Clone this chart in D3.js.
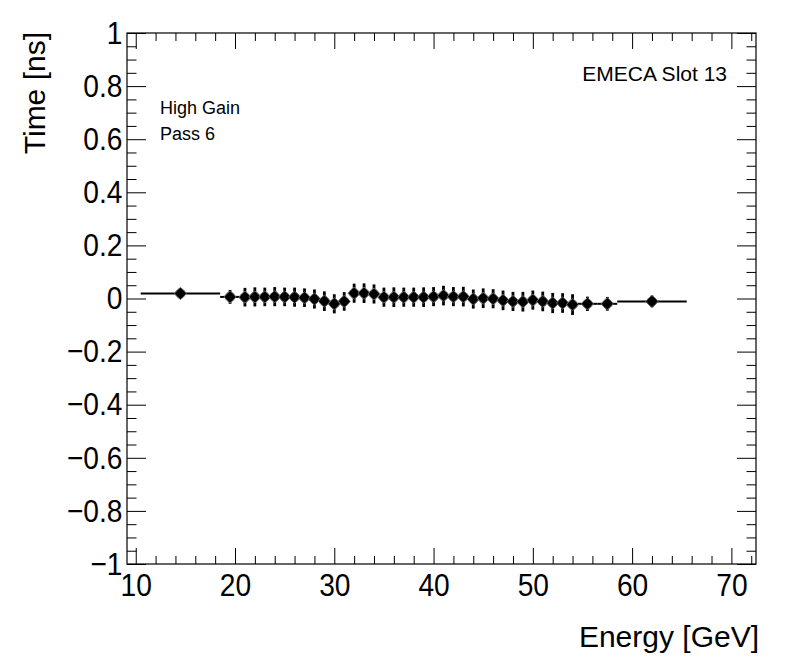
<!DOCTYPE html>
<html>
<head>
<meta charset="utf-8">
<script src="https://d3js.org/d3.v7.min.js"></script>
<style>
  body { margin: 0; background: #fff; }
  text { font-family: "Liberation Sans", Arial, Helvetica, sans-serif; fill: #000; }
</style>
</head>
<body>
<script>
// bin centres (GeV) and the time offset (ns)
var energy = [14.5, 19.5, 21, 22, 23, 24, 25, 26, 27, 28, 29, 30, 31, 32, 33, 34, 35, 36, 37, 38, 39,
              40, 41, 42, 43, 44, 45, 46, 47, 48, 49, 50, 51, 52, 53, 54, 55.5, 57.5, 62];
var time = [0.019, 0.006, 0.005, 0.006, 0.006, 0.007, 0.006, 0.005, 0.003, -0.002, -0.010, -0.020, -0.011,
            0.020, 0.020, 0.017, 0.005, 0.005, 0.005, 0.005, 0.005, 0.007, 0.011, 0.007, 0.007, -0.002,
            0.001, -0.001, -0.007, -0.011, -0.012, -0.006, -0.011, -0.017, -0.017, -0.023, -0.020, -0.020, -0.011];
var timeErr = [0.020, 0.026, 0.035, 0.036, 0.035, 0.036, 0.035, 0.036, 0.035, 0.036, 0.037, 0.036, 0.035,
               0.036, 0.037, 0.036, 0.036, 0.037, 0.036, 0.036, 0.037, 0.036, 0.037, 0.036, 0.037, 0.036,
               0.037, 0.036, 0.037, 0.036, 0.037, 0.036, 0.037, 0.038, 0.037, 0.039, 0.027, 0.026, 0.022];
// half-widths of the energy bins, left and right of the centre
var eErrLow  = [4, 1, 0.5, 0.5, 0.5, 0.5, 0.5, 0.5, 0.5, 0.5, 0.5, 0.5, 0.5, 0.5, 0.5, 0.5, 0.5, 0.5, 0.5,
                0.5, 0.5, 0.5, 0.5, 0.5, 0.5, 0.5, 0.5, 0.5, 0.5, 0.5, 0.5, 0.5, 0.5, 0.5, 0.5, 0.5, 1, 1, 3.5];
var eErrHigh = [4, 1, 0.5, 0.5, 0.5, 0.5, 0.5, 0.5, 0.5, 0.5, 0.5, 0.5, 0.5, 0.5, 0.5, 0.5, 0.5, 0.5, 0.5,
                0.5, 0.5, 0.5, 0.5, 0.5, 0.5, 0.5, 0.5, 0.5, 0.5, 0.5, 0.5, 0.5, 0.5, 0.5, 0.5, 0.5, 1, 1, 3.5];

var xTicks = [10, 20, 30, 40, 50, 60, 70];
var xTickLabels = ["10", "20", "30", "40", "50", "60", "70"];
var yTicks = [-1, -0.8, -0.6, -0.4, -0.2, 0, 0.2, 0.4, 0.6, 0.8, 1];
var yTickLabels = ["\u22121", "\u22120.8", "\u22120.6", "\u22120.4", "\u22120.2", "0", "0.2", "0.4", "0.6", "0.8", "1"];

var width = 796, height = 672;
var frameL = 127, frameR = 756, frameT = 33, frameB = 564;
var squeeze = 0.88;   // ROOT's label font is a bit narrower than Liberation Sans

var svg = d3.select("body").append("svg")
    .attr("width", width)
    .attr("height", height);

var x = d3.scaleLinear().domain([9.12, 72.48]).range([frameL, frameR]);
var y = d3.scaleLinear().domain([-1, 1]).range([frameB, frameT]);

// minor ticks: every 2 GeV on x, every 0.05 ns on y
var xMinor = d3.range(10, 73, 2).filter(function (d) { return d % 10 !== 0; });
var yMinor = d3.range(-20, 21).map(function (i) { return i * 0.05; })
    .filter(function (d) { return Math.abs(Math.round(d * 5) - d * 5) > 1e-6; });

function tickGroup(axis, tx, ty) {
  var g = svg.append("g").attr("transform", "translate(" + tx + "," + ty + ")").call(axis);
  g.select(".domain").remove();
  g.attr("font-family", null).attr("font-size", null);
  g.selectAll(".tick line").attr("stroke", "#000").attr("stroke-width", 1);
  return g;
}

// bottom
var gx = tickGroup(d3.axisBottom(x).tickValues(xTicks).tickSizeInner(-16).tickSizeOuter(0).tickPadding(9)
    .tickFormat(function (d, i) { return xTickLabels[i]; }), 0, frameB);
gx.selectAll("text").style("font-size", "32px").attr("fill", "#000")
    .attr("transform", "scale(" + squeeze + ",1)");
tickGroup(d3.axisBottom(x).tickValues(xMinor).tickSizeInner(-8).tickSizeOuter(0).tickFormat(""), 0, frameB);
// top
tickGroup(d3.axisTop(x).tickValues(xTicks).tickSizeInner(-16).tickSizeOuter(0).tickFormat(""), 0, frameT);
tickGroup(d3.axisTop(x).tickValues(xMinor).tickSizeInner(-8).tickSizeOuter(0).tickFormat(""), 0, frameT);
// left
var gy = tickGroup(d3.axisLeft(y).tickValues(yTicks).tickSizeInner(-19).tickSizeOuter(0).tickPadding(4.5)
    .tickFormat(function (d, i) { return yTickLabels[i]; }), frameL, 0);
gy.selectAll("text").style("font-size", "32px").attr("fill", "#000")
    .attr("x", -4.5 / squeeze)
    .attr("transform", "scale(" + squeeze + ",1)");
tickGroup(d3.axisLeft(y).tickValues(yMinor).tickSizeInner(-9.5).tickSizeOuter(0).tickFormat(""), frameL, 0);
// right
tickGroup(d3.axisRight(y).tickValues(yTicks).tickSizeInner(-19).tickSizeOuter(0).tickFormat(""), frameR, 0);
tickGroup(d3.axisRight(y).tickValues(yMinor).tickSizeInner(-9.5).tickSizeOuter(0).tickFormat(""), frameR, 0);

// frame
svg.append("rect")
    .attr("x", frameL).attr("y", frameT)
    .attr("width", frameR - frameL).attr("height", frameB - frameT)
    .attr("fill", "none").attr("stroke", "#000").attr("stroke-width", 1.2);

// data
var idx = d3.range(energy.length);
var pts = svg.append("g");

pts.selectAll("line.xerr").data(idx).enter().append("line")
    .attr("class", "xerr")
    .attr("x1", function (i) { return x(energy[i] - eErrLow[i]); })
    .attr("x2", function (i) { return x(energy[i] + eErrHigh[i]); })
    .attr("y1", function (i) { return y(time[i]); })
    .attr("y2", function (i) { return y(time[i]); })
    .attr("stroke", "#000").attr("stroke-width", 2);

pts.selectAll("line.yerr").data(idx).enter().append("line")
    .attr("class", "yerr")
    .attr("x1", function (i) { return x(energy[i]); })
    .attr("x2", function (i) { return x(energy[i]); })
    .attr("y1", function (i) { return y(time[i] - timeErr[i]); })
    .attr("y2", function (i) { return y(time[i] + timeErr[i]); })
    .attr("stroke", "#000").attr("stroke-width", 2.8);

var markerShape = {
  draw: function (ctx, size) {
    var r = Math.sqrt(size) / 2, q = r * 0.55;
    ctx.moveTo(0, -r); ctx.lineTo(q, -q); ctx.lineTo(r, 0); ctx.lineTo(q, q);
    ctx.lineTo(0, r); ctx.lineTo(-q, q); ctx.lineTo(-r, 0); ctx.lineTo(-q, -q);
    ctx.closePath();
  }
};

pts.selectAll("path.marker").data(idx).enter().append("path")
    .attr("class", "marker")
    .attr("transform", function (i) { return "translate(" + x(energy[i]) + "," + y(time[i]) + ")"; })
    .attr("d", d3.symbol().type(markerShape).size(144))
    .attr("fill", "#000").attr("stroke", "#666").attr("stroke-width", 1);

// labels
svg.append("text")
    .attr("x", 759).attr("y", 647)
    .attr("text-anchor", "end")
    .style("font-size", "30px")
    .text("Energy [GeV]");

svg.append("text")
    .attr("transform", "translate(45,32) rotate(-90)")
    .attr("text-anchor", "end")
    .style("font-size", "30px")
    .text("Time [ns]");

svg.append("text")
    .attr("x", 727).attr("y", 81)
    .attr("text-anchor", "end")
    .style("font-size", "21px")
    .text("EMECA Slot 13");

svg.append("text")
    .attr("x", 160).attr("y", 114)
    .style("font-size", "18px")
    .text("High Gain");

svg.append("text")
    .attr("x", 160).attr("y", 140)
    .style("font-size", "18px")
    .text("Pass 6");
</script>
</body>
</html>
